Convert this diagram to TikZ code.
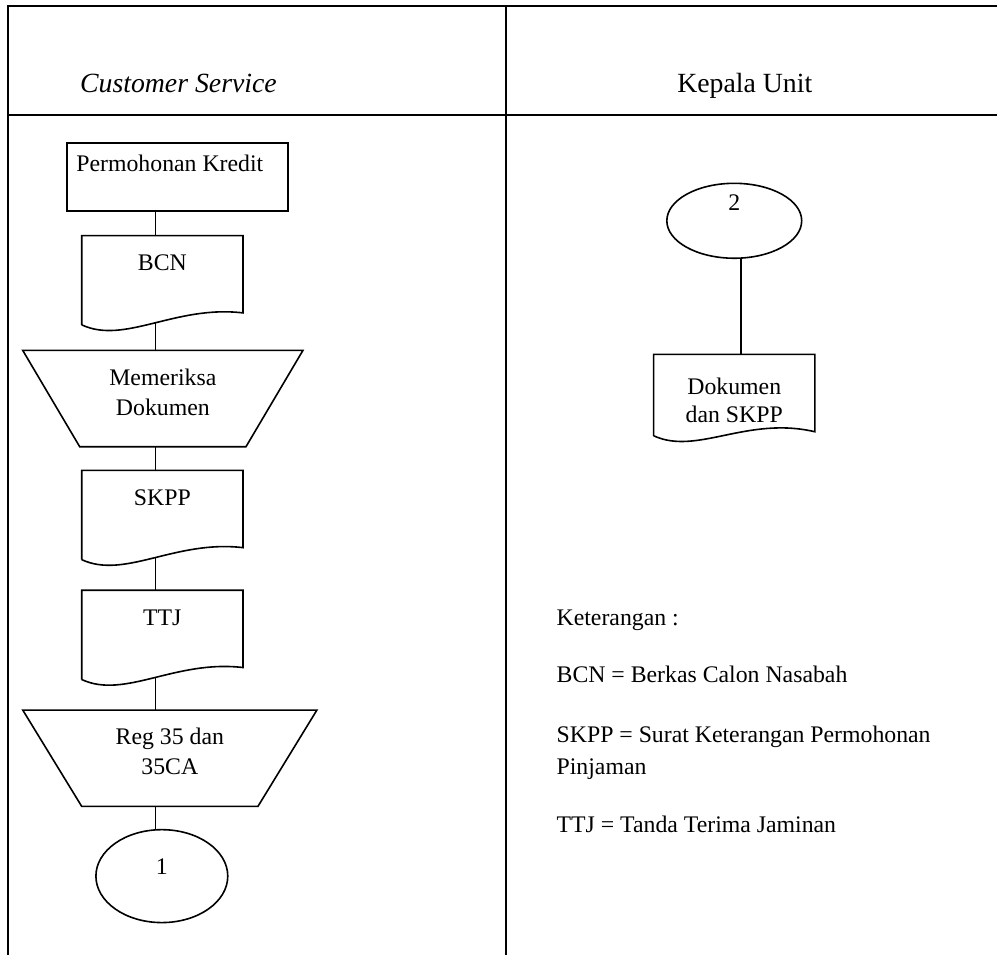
\documentclass[tikz,border=0pt]{standalone}
\usepackage{fontspec}
\setmainfont{Liberation Serif}
\usetikzlibrary{shapes.geometric}

\tikzset{
  lane/.style={line width=2pt},
  conn/.style={line width=1.6pt},
  body/.style={font=\fontsize{23.8}{30}\selectfont, inner sep=0pt},
  head/.style={font=\fontsize{27.8}{32}\selectfont, inner sep=0pt},
  headit/.style={font=\fontsize{27.8}{32}\selectfont\itshape, inner sep=0pt},
  kotak/.style={body, draw, line width=1.6pt, minimum width=221pt, text height=29pt, text depth=39pt},
  dok/.style={body, minimum width=161pt, text height=35pt, text depth=54pt},
  trap/.style={body, text height=35pt, text depth=61pt},
  konektor/.style={body, draw, ellipse, line width=1.6pt, text height=0pt},
}

\newcommand{\dokline}[2]{%
  \draw[conn] (#1.south west) -- (#1.north west) -- (#1.north east) -- ([yshift=#2pt]#1.south east)
    .. controls ([xshift=-68pt,yshift=20pt]#1.south east) and ([xshift=43pt,yshift=-20pt]#1.south west) .. (#1.south west);
}
\newcommand{\trapline}[2]{%
  \draw[conn] (#1.south west) -- (#1.south east) -- ([xshift=#2pt]#1.north east) -- ([xshift=-#2pt]#1.north west) -- cycle;
}

\begin{document}
\begin{tikzpicture}[x=1pt,y=-1pt]
  \fill[white] (0,0) rectangle (998,956);

  \draw[lane] (998,6) -- (8,6) -- (8,956);
  \draw[lane] (8,115) -- (998,115);
  \draw[lane] (507,6) -- (507,956);

  \node[headit, anchor=base west] (cs) at (80,93) {Customer Service};
  \node[head, anchor=base] (ku) at (745.5,93) {Kepala Unit};

  % customer service
  \node[kotak] (kredit) at (177.5,177) {Permohonan Kredit\hspace*{15pt}};
  \node[dok] (bcn) at (162.5,280.5) {BCN};
  \node[trap, minimum width=166pt] (periksa) at (163,399)
    {\begin{tabular}[t]{@{}c@{}}Memeriksa\\Dokumen\end{tabular}};
  \node[dok] (skpp) at (162.5,515.5) {SKPP};
  \node[dok] (ttj) at (162.5,635.5) {TTJ};
  \node[trap, minimum width=176pt, text height=34pt, text depth=62pt,
    font=\fontsize{23.8}{30}\selectfont] (reg) at (170,759)
    {\begin{tabular}[t]{@{}c@{}}Reg 35 dan\\35CA\end{tabular}};
  \node[konektor, minimum width=132pt, minimum height=93pt, text depth=4pt] (satu) at (162,877) {1};

  % kepala unit
  \node[konektor, minimum width=135pt, minimum height=75pt, text depth=20pt] (dua) at (735,221) {2};
  \node[dok, text height=40pt, text depth=41pt, font=\fontsize{23.8}{28}\selectfont] (dokskpp) at (735,395.5)
    {\begin{tabular}[t]{@{}c@{}}Dokumen\\dan SKPP\end{tabular}};

  \foreach \d/\r in {bcn/12, skpp/12, ttj/12, dokskpp/4}
    {\dokline{\d}{\r}}
  \trapline{periksa}{57}
  \trapline{reg}{59}

  \coordinate (sumbu) at (155.5,0);
  \coordinate (sumbuku) at (742,0);
  \foreach \a/\b/\s in {kredit/bcn/0pt, bcn/periksa/-3pt, periksa/skpp/0pt, skpp/ttj/-3pt, ttj/reg/-3pt, reg/satu/0pt}
    \draw[conn, shorten <=\s] (\a.south -| sumbu) -- (\b.north -| sumbu);
  \draw[conn] (dua.south -| sumbuku) -- (dokskpp.north -| sumbuku);

  % keterangan
  \node[body, anchor=base west] (ket) at (557,626) {Keterangan :};
  \node[body, anchor=base west] (ketbcn) at (557,683) {BCN = Berkas Calon Nasabah};
  \node[body, anchor=base west, font=\fontsize{23.8}{32}\selectfont] (ketskpp) at (557,743)
    {\begin{tabular}[t]{@{}l@{}}SKPP = Surat Keterangan Permohonan\\Pinjaman\end{tabular}};
  \node[body, anchor=base west] (ketttj) at (557,833) {TTJ = Tanda Terima Jaminan};
\end{tikzpicture}
\end{document}
